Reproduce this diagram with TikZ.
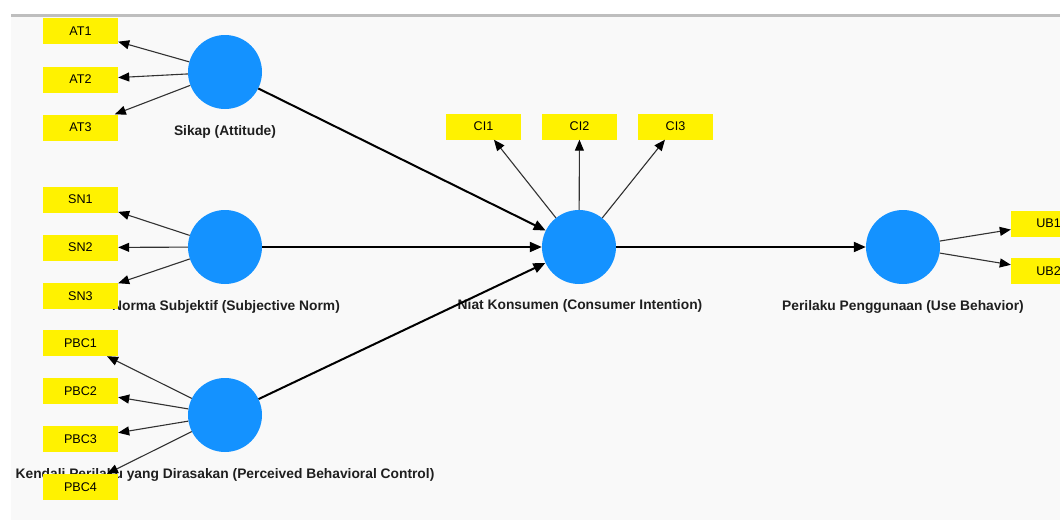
\documentclass[tikz,border=0pt]{standalone}
\usepackage{fontspec}
\setmainfont{Liberation Sans}
\usetikzlibrary{arrows.meta}
\definecolor{lv}{RGB}{20,146,255}
\definecolor{panel}{RGB}{249,249,249}
\definecolor{topline}{RGB}{190,190,190}
\definecolor{ind}{RGB}{50,50,50}
\tikzset{
  latent/.style={circle,fill=lv,minimum size=74pt,inner sep=0pt},
  indbox/.style={fill=yellow,minimum width=75pt,minimum height=26pt,inner sep=0pt,font=\fontsize{12.6}{14}\selectfont},
  lvlabel/.style={font=\fontsize{13.8}{16}\selectfont\bfseries,inner sep=0pt,text=black!88},
  load/.style={draw=ind,line width=1.1pt,-{Triangle[length=11pt,width=9pt,fill=black,color=black]}},
  path/.style={draw=black,line width=2pt,-{Triangle[length=12pt,width=10pt]}}
}
\begin{document}
\begin{tikzpicture}[x=1pt,y=-1pt]
\useasboundingbox (0,0) rectangle (1060,520);
\clip (0,0) rectangle (1060,520);
\fill[white] (0,0) rectangle (1060,520);
\fill[panel] (11,17) rectangle (1060,520);
\fill[topline] (11,14) rectangle (1060,17);
% labels
\node[lvlabel] (lAT) at (225,131.5) {Sikap (Attitude)};
\node[lvlabel] (lSN) at (226,306.5) {Norma Subjektif (Subjective Norm)};
\node[lvlabel] (lPBC) at (225,474.5) {Kendali Perilaku yang Dirasakan (Perceived Behavioral Control)};
\node[lvlabel] (lCI) at (580,305.5) {Niat Konsumen (Consumer Intention)};
\node[lvlabel] (lUB) at (903,306.5) {Perilaku Penggunaan (Use Behavior)};
% latent variables
\node[latent] (AT) at (225,72) {};
\node[latent] (SN) at (225,247) {};
\node[latent] (PBC) at (225,415) {};
\node[latent] (CI) at (579,247) {};
\node[latent] (UB) at (903,247) {};
% indicators
\node[indbox] (AT1) at (80.5,31) {AT1};
\node[indbox] (AT2) at (80.5,79.5) {AT2};
\node[indbox] (AT3) at (80.5,127.5) {AT3};
\node[indbox] (SN1) at (80.5,199.5) {SN1};
\node[indbox] (SN2) at (80.5,247.5) {SN2};
\node[indbox] (SN3) at (80.5,296) {SN3};
\node[indbox] (PBC1) at (80.5,343) {PBC1};
\node[indbox] (PBC2) at (80.5,391) {PBC2};
\node[indbox] (PBC3) at (80.5,439) {PBC3};
\node[indbox] (PBC4) at (80.5,487) {PBC4};
\node[indbox] (CI1) at (483.5,126.5) {CI1};
\node[indbox] (CI2) at (579.5,126.5) {CI2};
\node[indbox] (CI3) at (675.5,126.5) {CI3};
\node[indbox] (UB1) at (1048.5,223.5) {UB1};
\node[indbox] (UB2) at (1048.5,271) {UB2};
% loadings
\foreach \a/\b in {AT/AT1,AT/AT2,AT/AT3,SN/SN1,SN/SN2,SN/SN3,PBC/PBC1,PBC/PBC2,PBC/PBC3,PBC/PBC4,CI/CI1,CI/CI2,CI/CI3,UB/UB1,UB/UB2}
  \draw[load] (\a) -- (\b);
% structural paths
\draw[path] (AT) -- (CI);
\draw[path] (SN) -- (CI);
\draw[path] (PBC) -- (CI);
\draw[path] (CI) -- (UB);
\end{tikzpicture}
\end{document}
